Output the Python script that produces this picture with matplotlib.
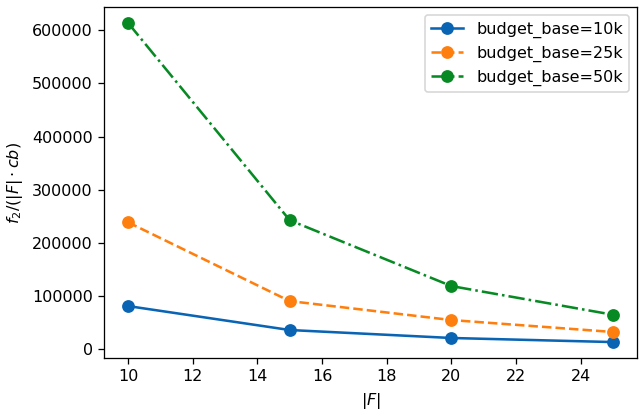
import matplotlib
matplotlib.use("Agg")
import matplotlib.pyplot as plt

F = [10, 15, 20, 25]
b10 = [80800, 35700, 20700, 13000]
b25 = [238500, 90200, 54500, 32000]
b50 = [614000, 242500, 118500, 64500]

dpi = 115
fig = plt.figure(figsize=(641 / dpi, 412 / dpi), dpi=dpi)
ax = fig.add_axes([0.162, 0.131, 0.832, 0.852])

ax.plot(F, b10, "-", marker="o", ms=7, lw=1.6, color="#0a64b4", label="budget_base=10k")
ax.plot(F, b25, "--", marker="o", ms=7, lw=1.6, color="#ff7f0e", label="budget_base=25k")
ax.plot(F, b50, "-.", marker="o", ms=7, lw=1.6, color="#078a23", label="budget_base=50k")

ax.set_xlabel(r"$|F|$")
ax.set_ylabel(r"$f_2/(|F|\cdot cb)$")
ax.set_xticks([10, 12, 14, 16, 18, 20, 22, 24])
ax.legend(loc="upper right")

fig.savefig("out.png", dpi=dpi)
